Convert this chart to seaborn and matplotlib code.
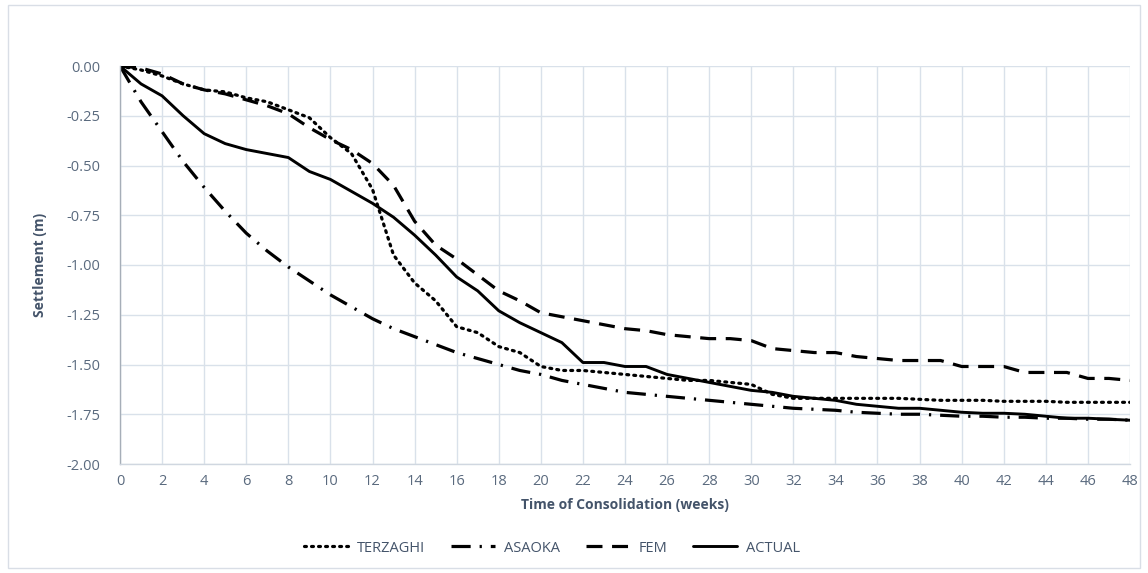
import matplotlib
matplotlib.use("Agg")
import matplotlib.pyplot as plt
import seaborn as sns
import numpy as np
from matplotlib.ticker import FuncFormatter
from matplotlib.patches import Rectangle

weeks = list(range(0, 49))

terzaghi = [0.00, -0.02, -0.05, -0.09, -0.12, -0.13, -0.16, -0.18, -0.22, -0.26,
            -0.36, -0.44, -0.62, -0.95, -1.09, -1.18, -1.31, -1.34, -1.41, -1.44,
            -1.51, -1.53, -1.53, -1.54, -1.55, -1.56, -1.57, -1.58, -1.58, -1.59,
            -1.60, -1.65, -1.67, -1.67, -1.67, -1.67, -1.67, -1.67, -1.675, -1.68,
            -1.68, -1.68, -1.685, -1.685, -1.685, -1.69, -1.69, -1.69, -1.69]

asaoka = [0.00, -0.18, -0.33, -0.48, -0.61, -0.73, -0.84, -0.93, -1.01, -1.08,
          -1.15, -1.21, -1.27, -1.32, -1.36, -1.40, -1.44, -1.47, -1.50, -1.53,
          -1.55, -1.58, -1.60, -1.62, -1.64, -1.65, -1.66, -1.67, -1.68, -1.69,
          -1.70, -1.71, -1.72, -1.725, -1.73, -1.74, -1.745, -1.75, -1.75, -1.755,
          -1.76, -1.76, -1.765, -1.765, -1.77, -1.77, -1.775, -1.775, -1.78]

fem = [0.00, -0.01, -0.04, -0.09, -0.12, -0.14, -0.17, -0.20, -0.24, -0.31,
       -0.37, -0.42, -0.49, -0.60, -0.78, -0.90, -0.97, -1.05, -1.13, -1.18,
       -1.24, -1.26, -1.28, -1.30, -1.32, -1.33, -1.35, -1.36, -1.37, -1.37,
       -1.38, -1.42, -1.43, -1.44, -1.44, -1.46, -1.47, -1.48, -1.48, -1.48,
       -1.51, -1.51, -1.51, -1.54, -1.54, -1.54, -1.57, -1.57, -1.58]

actual = [0.00, -0.09, -0.15, -0.25, -0.34, -0.39, -0.42, -0.44, -0.46, -0.53,
          -0.57, -0.63, -0.69, -0.76, -0.85, -0.95, -1.06, -1.13, -1.23, -1.29,
          -1.34, -1.39, -1.49, -1.49, -1.51, -1.51, -1.55, -1.57, -1.59, -1.61,
          -1.63, -1.64, -1.66, -1.67, -1.68, -1.70, -1.71, -1.72, -1.72, -1.73,
          -1.74, -1.745, -1.745, -1.75, -1.76, -1.77, -1.77, -1.775, -1.78]

series_names = ["TERZAGHI", "ASAOKA", "FEM", "ACTUAL"]
x_ticks = list(range(0, 49, 2))
y_ticks = [0.00, -0.25, -0.50, -0.75, -1.00, -1.25, -1.50, -1.75, -2.00]

sns.set_theme(style="whitegrid")
plt.rcParams['font.family'] = ['Open Sans', 'DejaVu Sans']

text_color = "#44546A"
tick_color = "#5A6A7E"
grid_color = "#D9E1EA"

fig = plt.figure(figsize=(11.48, 5.73), dpi=100)
fig.patch.set_facecolor("white")
ax = fig.add_axes([120/1148, 1 - 464/573, (1130-120)/1148, (464-66)/573])

styles = {
    "TERZAGHI": dict(linestyle=(0, (0.6, 1.6)), dash_capstyle="round", linewidth=2.3),
    "ASAOKA": dict(linestyle=(0, (6.0, 2.8, 0.7, 2.8)), linewidth=2.3),
    "FEM": dict(linestyle=(0, (5.0, 3.0)), linewidth=2.3),
    "ACTUAL": dict(linestyle="-", linewidth=2.1),
}
data = {"TERZAGHI": terzaghi, "ASAOKA": asaoka, "FEM": fem, "ACTUAL": actual}

for name in series_names:
    sns.lineplot(x=weeks, y=data[name], ax=ax, color="black", label=name,
                 **styles[name])

ax.set_xlim(0, 48)
ax.set_ylim(-2.0, 0.0)
ax.set_xticks(x_ticks)
ax.set_yticks(y_ticks)
ax.yaxis.set_major_formatter(FuncFormatter(lambda v, p: "0.00" if abs(v) < 1e-9 else f"{v:.2f}"))
ax.grid(True, color=grid_color, linewidth=1.0)
ax.set_facecolor("white")
for s in ["top", "right"]:
    ax.spines[s].set_visible(False)
ax.spines["left"].set_color("#A6AEB8")
ax.spines["left"].set_linewidth(1.0)
ax.spines["bottom"].set_color("#D0D7E0")
ax.spines["bottom"].set_linewidth(1.0)
ax.tick_params(axis="x", colors=tick_color, labelsize=10.5, length=0, pad=7)
ax.tick_params(axis="y", colors=tick_color, labelsize=10.5, length=0, pad=14)

ax.set_xlabel("Time of Consolidation (weeks)", fontsize=10, fontweight="bold",
              color=text_color, labelpad=7)
ax.set_ylabel("Settlement (m)", fontsize=10, fontweight="bold",
              color=text_color, labelpad=14)

leg = ax.legend(loc="center", bbox_to_anchor=(552/1148, 1 - 548/573),
                bbox_transform=fig.transFigure, ncol=4, frameon=False,
                fontsize=10.5, handlelength=3.0, columnspacing=1.8, handletextpad=0.6)
for t in leg.get_texts():
    t.set_color(text_color)

fig.add_artist(Rectangle((8/1148, 5/573), (1140-8)/1148, (568-5)/573,
                         transform=fig.transFigure, fill=False,
                         edgecolor="#D9DEE6", linewidth=1.0))

fig.savefig("out.png", dpi=100, facecolor="white")
